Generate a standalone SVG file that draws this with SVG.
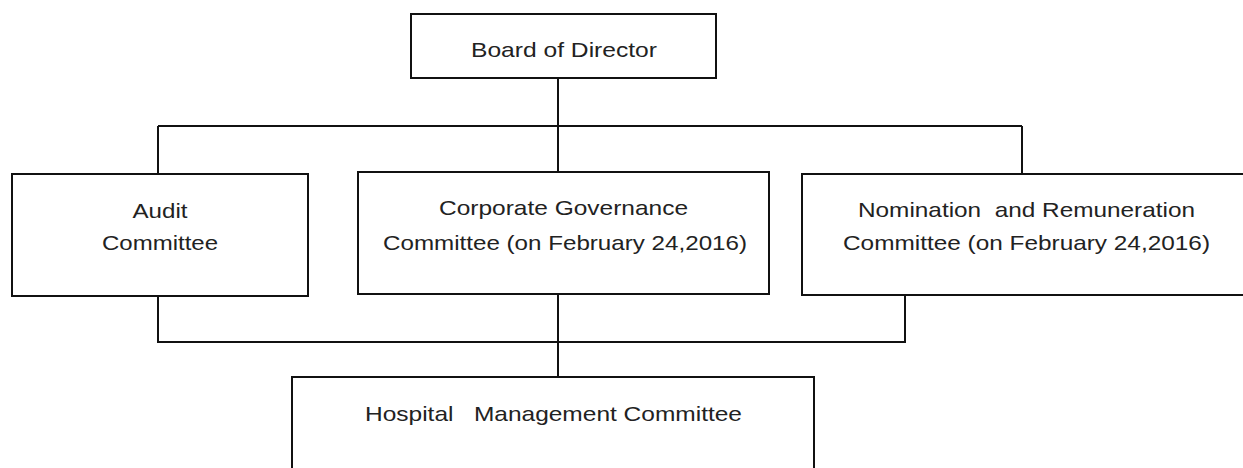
<svg xmlns="http://www.w3.org/2000/svg" width="1243" height="468" viewBox="0 0 1243 468">
<style>
.box{fill:#fff;stroke:#111;stroke-width:2}
.ln{fill:none;stroke:#111;stroke-width:2}
.t{font-family:"Liberation Sans",Arial,sans-serif;font-size:21px;fill:#222;text-anchor:middle}
</style>
<rect width="1243" height="468" fill="#fff"/>
<g id="connectors">
<path class="ln" d="M558 78V172M158 126H1022M158 126V174M1022 126V174"/>
<path class="ln" d="M158 296V342H905V295M558 294V377"/>
</g>
<g id="board">
<rect class="box" x="411" y="14" width="305" height="64"/>
<text class="t" x="564" y="57" textLength="186" lengthAdjust="spacingAndGlyphs">Board of Director</text>
</g>
<g id="audit">
<rect class="box" x="12" y="174" width="296" height="122"/>
<text class="t" x="160" y="218" textLength="55" lengthAdjust="spacingAndGlyphs">Audit</text>
<text class="t" x="160" y="250" textLength="116" lengthAdjust="spacingAndGlyphs">Committee</text>
</g>
<g id="governance">
<rect class="box" x="358" y="172" width="411" height="122"/>
<text class="t" x="563.5" y="215" textLength="249" lengthAdjust="spacingAndGlyphs">Corporate Governance</text>
<text class="t" x="565" y="250" textLength="364" lengthAdjust="spacingAndGlyphs">Committee (on February 24,2016)</text>
</g>
<g id="nomination">
<rect class="box" x="802" y="174" width="460" height="121"/>
<text class="t" x="1026.5" y="217" textLength="337" lengthAdjust="spacingAndGlyphs" xml:space="preserve">Nomination  and Remuneration</text>
<text class="t" x="1026.5" y="250" textLength="367" lengthAdjust="spacingAndGlyphs">Committee (on February 24,2016)</text>
</g>
<g id="hospital">
<rect class="box" x="292" y="377" width="522" height="120"/>
<text class="t" x="553.5" y="421" font-size="25" textLength="377" lengthAdjust="spacingAndGlyphs" xml:space="preserve">Hospital   Management Committee</text>
</g>
</svg>
